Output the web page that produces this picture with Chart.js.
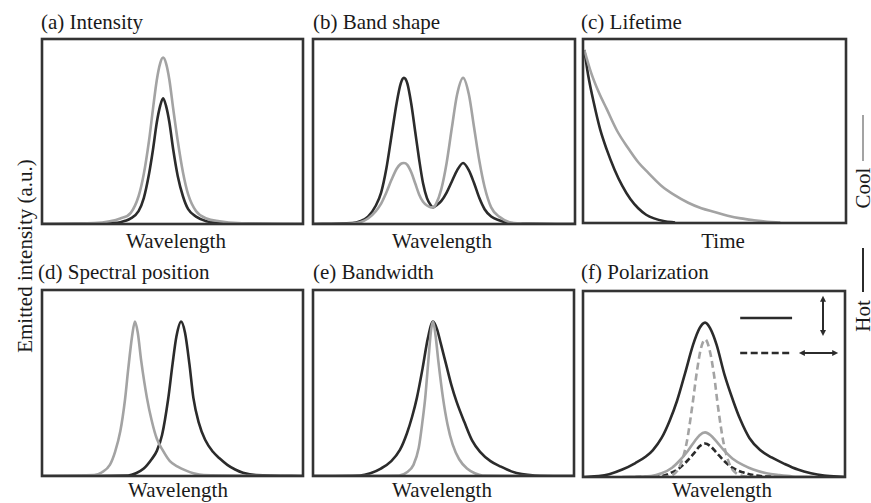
<!DOCTYPE html>
<html>
<head>
<meta charset="utf-8">
<script src="https://cdn.jsdelivr.net/npm/chart.js@4"></script>
<style>
  body { margin: 0; background: #fff; }
  #fig { position: relative; width: 871px; height: 503px; overflow: hidden; font-family: "Liberation Serif", serif; color: #1a1a1a; }
  #fig canvas { position: absolute; }
  .txt { position: absolute; font-size: 21px; line-height: 1; white-space: nowrap; }
  .ctr { transform: translateX(-50%); }
  .rot { transform: translate(-50%, -50%) rotate(-90deg); }
  .key { position: absolute; width: 2px; }
</style>
</head>
<body>
<div id="fig">
  <div class="txt" style="left:41px;top:12px">(a) Intensity</div>
  <div class="txt" style="left:313px;top:12px">(b) Band shape</div>
  <div class="txt" style="left:581px;top:12px">(c) Lifetime</div>
  <div class="txt" style="left:38px;top:262px">(d) Spectral position</div>
  <div class="txt" style="left:313px;top:262px">(e) Bandwidth</div>
  <div class="txt" style="left:581px;top:262px">(f) Polarization</div>

  <div class="txt ctr" style="left:176px;top:231px">Wavelength</div>
  <div class="txt ctr" style="left:442px;top:231px">Wavelength</div>
  <div class="txt ctr" style="left:723px;top:231px">Time</div>
  <div class="txt ctr" style="left:178px;top:480px">Wavelength</div>
  <div class="txt ctr" style="left:442px;top:480px">Wavelength</div>
  <div class="txt ctr" style="left:722px;top:480px">Wavelength</div>

  <div class="txt rot" style="left:25px;top:256px">Emitted intensity (a.u.)</div>
  <div class="txt rot" style="left:863px;top:188px">Cool</div>
  <div class="key" style="left:862px;top:115px;height:46px;background:#a3a3a3"></div>
  <div class="txt rot" style="left:863px;top:316px">Hot</div>
  <div class="key" style="left:862px;top:248px;height:44px;background:#2b2b2b"></div>
</div>
<script>
// (a) Intensity
const aX = [0, 20, 26, 30, 34, 37, 39, 41, 42.5, 44, 45.3, 46.4, 47.5, 48.8, 50.3, 52, 54, 56, 59, 63, 68, 75, 100];
const aCool = [0, 0.5, 1.5, 3, 6, 15, 27, 45, 62, 78, 87, 90, 87, 78, 62, 45, 28, 16, 7, 3, 1.5, 0.5, 0];
const aHot = [0, 0.2, 0.6, 1, 3, 7, 14, 27, 40, 55, 64, 68, 64, 55, 40, 26, 15, 8, 4, 1.5, 0.5, 0.2, 0];

// (b) Band shape
const bX = [0, 15, 18, 21, 24, 26, 28, 30, 32, 33.5, 34.7, 36, 37.5, 39, 40.5, 42, 43.5, 45, 45.8, 47, 49, 51, 53, 55, 57.3, 59.5, 61.5, 63.5, 65.5, 68, 71, 75, 80, 100];
const bHot = [0, 0.5, 1.5, 4, 10, 17, 30, 48, 66, 76, 79, 76, 65, 50, 35, 22, 14, 10, 9, 10, 12.5, 17, 23, 29, 33, 29, 22, 14, 8, 4, 2, 0.5, 0.2, 0];
const bCool = [0, 0.3, 1, 3, 7, 11, 17, 24, 30, 32.5, 33, 32, 28, 22, 16, 12, 10, 9, 9, 11, 19, 33, 52, 70, 79, 70, 52, 34, 20, 9, 4, 1, 0.3, 0];

// (c) Lifetime
const cXCool = [0.5, 3, 6, 9, 13, 17, 21, 25, 30, 35, 40, 45, 50, 55, 60, 65, 70, 75];
const cCool = [94, 82, 71, 62, 50, 41, 33, 27, 20, 15, 11, 8, 6, 4, 2.5, 1.5, 0.7, 0.2];
const cXHot = [0.5, 2, 4, 6.5, 9, 12, 15, 18, 21, 24, 27, 31, 35];
const cHot = [94, 80, 66, 51, 40, 29, 20, 13, 8, 4.5, 2.5, 1, 0.3];

// (d) Spectral position
const dXCool = [0, 20, 23, 26, 28, 30, 31.8, 33, 34.5, 35.6, 36.7, 38, 40.2, 42, 44, 46.4, 49, 52, 55, 58, 62, 100];
const dCool = [0, 0.5, 2, 6, 13, 24, 41, 57, 75, 83, 77, 62, 42, 30, 20, 13.5, 8, 5, 3, 1.5, 0.5, 0];
const dXHot = [0, 33, 36, 39, 42, 44, 46, 48.3, 50, 51.5, 53.3, 54.8, 56.5, 58, 60, 62.5, 65.5, 68, 71, 74, 77, 82, 100];
const dHot = [0, 0.3, 1.5, 4, 9, 13.5, 22, 41, 60, 75, 83, 77, 60, 42, 29, 19.5, 13, 9.5, 6, 3.5, 1.8, 0.5, 0];

// (e) Bandwidth
const eXHot = [0, 18, 22, 26, 30, 33.3, 36, 38, 39.8, 42, 44, 46, 47.5, 49, 51, 53, 55, 58, 61, 64, 68, 72, 76, 80, 85, 100];
const eHot = [0, 0.3, 1.5, 4, 8, 14, 23, 32, 42, 58, 74, 83, 79, 71, 60, 49, 40, 29, 19, 13, 8, 5, 2.5, 1, 0.3, 0];
const eXCool = [0, 33, 36, 38.5, 40.5, 42, 43, 44.2, 45.2, 46, 47, 48, 49.8, 51.5, 53.5, 56, 59, 62, 65, 100];
const eCool = [0, 0.3, 2, 6, 15, 30, 42, 62, 78, 83, 75, 62, 42, 28, 17, 9, 4, 1.5, 0.3, 0];

// (f) Polarization
const fXHotSolid = [0, 6, 10, 15, 20, 24, 26.7, 30, 33, 35.9, 39, 42, 44.5, 46.6, 48.5, 51, 54, 57.3, 60, 63.5, 67.6, 72, 77, 82, 87, 92, 100];
const fHotSolid = [0, 0.5, 1.5, 4, 7.5, 11, 14.5, 21, 30, 41, 56, 71, 80, 83, 80, 71, 55, 41, 31, 21, 14.5, 10.5, 7, 4, 2, 0.8, 0];
const fXCoolDashed = [30, 34, 37, 39.5, 41.6, 43.5, 45, 46.6, 48.2, 50, 51.6, 53.7, 56.2, 59, 62, 66];
const fCoolDashed = [0, 1, 6, 18, 37, 57, 69, 74, 69, 55, 37, 18, 6, 1.5, 0.3, 0];
const fXCoolSolid = [15, 26, 30, 34, 37, 40, 42.5, 44.5, 46.6, 48.7, 51, 54, 57, 61, 65, 70, 75, 80, 88];
const fCoolSolid = [0, 0.5, 2, 5, 9, 14, 19, 22.5, 24, 22.5, 19, 14, 10, 6.5, 4, 2, 1, 0.3, 0];
const fXHotDashed = [20, 30, 34, 37, 40, 42.5, 44.5, 46.6, 48.7, 51, 54, 57, 61, 65, 70, 78];
const fHotDashed = [0, 0.5, 2.5, 5, 9, 13, 16.5, 18, 16.5, 13, 8.5, 5, 2.5, 1, 0.3, 0];

const HOT = "#2b2b2b";
const COOL = "#a3a3a3";
const PAD = 3;

const pts = (xs, ys) => xs.map((x, i) => ({ x, y: ys[i] }));

function series(xs, ys, color, dash) {
  return {
    data: pts(xs, ys),
    borderColor: color,
    borderWidth: 2.6,
    borderDash: dash || [],
    pointRadius: 0,
    fill: false,
    tension: 0.4,
    cubicInterpolationMode: "monotone",
  };
}

// frame around each plot, drawn over the curves so baselines sink into it
const frame = {
  id: "frame",
  afterDatasetsDraw(chart) {
    const { ctx, chartArea: a } = chart;
    ctx.save();
    ctx.strokeStyle = "#333";
    ctx.lineWidth = 2.6;
    ctx.strokeRect(a.left, a.top, a.right - a.left, a.bottom - a.top);
    ctx.restore();
  },
};

// line-style key inside panel (f)
const polKey = {
  id: "polKey",
  afterDraw(chart) {
    const { ctx } = chart;
    const x = chart.scales.x, y = chart.scales.y;
    const px = (v) => x.getPixelForValue(v), py = (v) => y.getPixelForValue(v);
    ctx.save();
    ctx.strokeStyle = HOT;
    ctx.fillStyle = HOT;
    ctx.lineWidth = 2.6;
    ctx.beginPath();
    ctx.moveTo(px(60), py(85.5)); ctx.lineTo(px(79.8), py(85.5));
    ctx.stroke();
    ctx.setLineDash([7, 3.5]);
    ctx.beginPath();
    ctx.moveTo(px(60), py(66.7)); ctx.lineTo(px(79.8), py(66.7));
    ctx.stroke();
    ctx.setLineDash([]);
    ctx.lineWidth = 2;
    const arrowHead = (x0, y0, dx, dy) => {
      ctx.beginPath();
      ctx.moveTo(x0, y0);
      ctx.lineTo(x0 - dx * 6 - dy * 3, y0 - dy * 6 + dx * 3);
      ctx.lineTo(x0 - dx * 6 + dy * 3, y0 - dy * 6 - dx * 3);
      ctx.closePath();
      ctx.fill();
    };
    // vertical double arrow
    const vx = px(91.6), vt = py(97.5), vb = py(75.8);
    ctx.beginPath(); ctx.moveTo(vx, vt + 4); ctx.lineTo(vx, vb - 4); ctx.stroke();
    arrowHead(vx, vt, 0, -1); arrowHead(vx, vb, 0, 1);
    // horizontal double arrow
    const hy = py(66.7), hl = px(82.4), hr = px(97.4);
    ctx.beginPath(); ctx.moveTo(hl + 4, hy); ctx.lineTo(hr - 4, hy); ctx.stroke();
    arrowHead(hl, hy, -1, 0); arrowHead(hr, hy, 1, 0);
    ctx.restore();
  },
};

function panel(box, datasets, extra) {
  const cv = document.createElement("canvas");
  const w = box.w + PAD * 2, h = box.h + PAD * 2;
  cv.width = w; cv.height = h;
  cv.style.left = box.x - PAD + "px";
  cv.style.top = box.y - PAD + "px";
  cv.style.width = w + "px";
  cv.style.height = h + "px";
  document.getElementById("fig").appendChild(cv);
  return new Chart(cv.getContext("2d"), {
    type: "line",
    data: { datasets },
    options: {
      responsive: false,
      animation: false,
      devicePixelRatio: 1,
      layout: { padding: PAD },
      plugins: { legend: { display: false }, tooltip: { enabled: false } },
      scales: {
        x: { type: "linear", min: 0, max: 100, display: false },
        y: { min: 0, max: 100, display: false },
      },
    },
    plugins: [frame].concat(extra || []),
  });
}

panel({ x: 42, y: 39, w: 261, h: 185 }, [
  series(aX, aCool, COOL),
  series(aX, aHot, HOT),
]);
panel({ x: 313, y: 39, w: 262, h: 185 }, [
  series(bX, bCool, COOL),
  series(bX, bHot, HOT),
]);
panel({ x: 583, y: 39, w: 263, h: 184 }, [
  series(cXCool, cCool, COOL),
  series(cXHot, cHot, HOT),
]);
panel({ x: 42, y: 290, w: 261, h: 186 }, [
  series(dXCool, dCool, COOL),
  series(dXHot, dHot, HOT),
]);
panel({ x: 313, y: 290, w: 261, h: 186 }, [
  series(eXCool, eCool, COOL),
  series(eXHot, eHot, HOT),
]);
panel({ x: 583, y: 291, w: 262, h: 186 }, [
  series(fXHotSolid, fHotSolid, HOT),
  series(fXCoolDashed, fCoolDashed, COOL, [7, 4]),
  series(fXCoolSolid, fCoolSolid, COOL),
  series(fXHotDashed, fHotDashed, HOT, [6, 3]),
], [polKey]);
</script>
</body>
</html>
